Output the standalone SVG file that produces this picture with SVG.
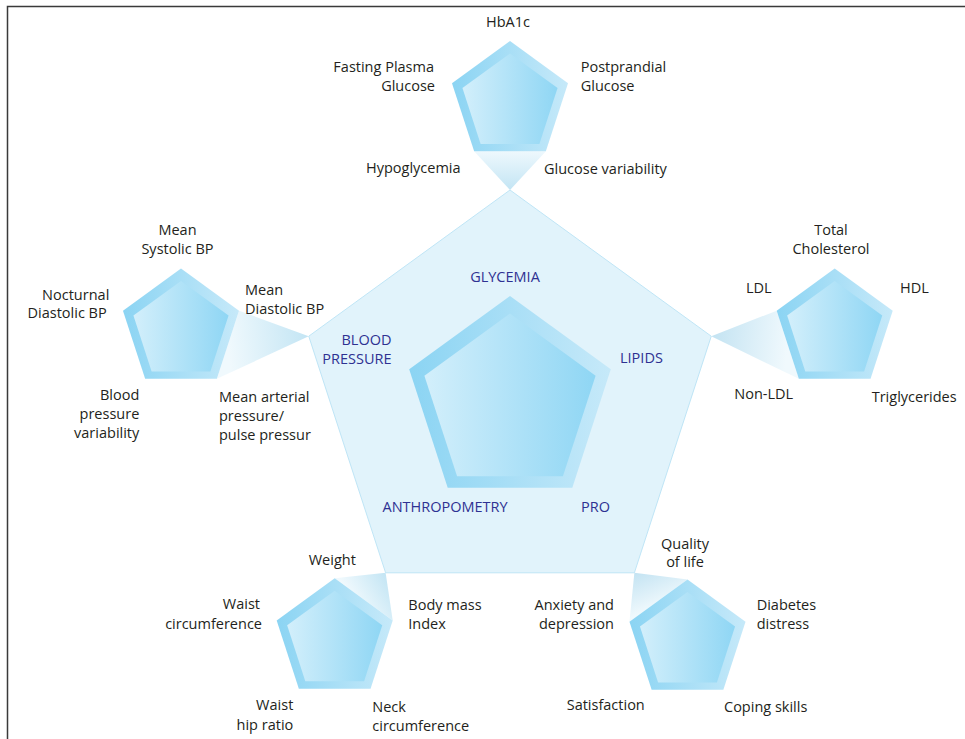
<svg xmlns="http://www.w3.org/2000/svg" xmlns:xlink="http://www.w3.org/1999/xlink" width="965" height="739" viewBox="0 0 965 739">
  <defs>
    <style>
      .lbl { font-family: "Open Sans", "Noto Sans", "DejaVu Sans", sans-serif; font-size: 14.5px; fill: #231f20; }
      .dom { font-family: "Open Sans", "Noto Sans", "DejaVu Sans", sans-serif; font-size: 14.5px; fill: #2e3192; }
      .mid { text-anchor: middle; }
      .end { text-anchor: end; }
      .frame { fill: none; stroke: #3a3a3a; stroke-width: 1.5; }
      .hub { fill: #e1f3fb; stroke: #bfe5f6; stroke-width: 1; }
    </style>
    <!-- rim of each pentagon: darker on the left, paler on the right -->
    <linearGradient id="rim" x1="0" y1="0" x2="1" y2="0">
      <stop offset="0" stop-color="#8bd4f3"/>
      <stop offset="1" stop-color="#c6e9f9"/>
    </linearGradient>
    <!-- face of each pentagon: paler on the left, darker on the right -->
    <linearGradient id="face" x1="0" y1="0" x2="1" y2="0">
      <stop offset="0" stop-color="#d3effb"/>
      <stop offset="1" stop-color="#8fd6f4"/>
    </linearGradient>
    <!-- beams: blue at the hub vertex, fading towards the satellite -->
    <linearGradient id="beamTop" gradientUnits="userSpaceOnUse" x1="510" y1="190" x2="510" y2="151">
      <stop offset="0" stop-color="#c3e5f4"/>
      <stop offset="1" stop-color="#eef8fd"/>
    </linearGradient>
    <linearGradient id="beamLeft" gradientUnits="userSpaceOnUse" x1="308.75" y1="336.2" x2="227.94" y2="344.75">
      <stop offset="0" stop-color="#c3e5f4"/>
      <stop offset="1" stop-color="#f0f9fd"/>
    </linearGradient>
    <linearGradient id="beamRight" gradientUnits="userSpaceOnUse" x1="711.25" y1="336.2" x2="787.76" y2="344.75">
      <stop offset="0" stop-color="#c3e3f2"/>
      <stop offset="1" stop-color="#f0f9fd"/>
    </linearGradient>
    <linearGradient id="beamBL" gradientUnits="userSpaceOnUse" x1="385.62" y1="572.8" x2="350" y2="595">
      <stop offset="0" stop-color="#c3e5f4"/>
      <stop offset="1" stop-color="#f0f9fd"/>
    </linearGradient>
    <linearGradient id="beamBR" gradientUnits="userSpaceOnUse" x1="634.38" y1="572.8" x2="650" y2="610">
      <stop offset="0" stop-color="#c3e3f2"/>
      <stop offset="1" stop-color="#f0f9fd"/>
    </linearGradient>
    <!-- satellite pentagon, centred on the origin -->
    <g id="sat">
      <polygon fill="url(#rim)" points="0,-61 58.02,-18.85 35.86,49.35 -35.86,49.35 -58.02,-18.85"/>
      <polygon fill="url(#face)" points="0,-48.5 47.55,-13.95 29.39,41.95 -29.39,41.95 -47.55,-13.95"/>
    </g>
  </defs>

  <rect width="965" height="739" fill="#ffffff"/>
  <path class="frame" d="M7.5,739 V6.5 H965"/>

  <!-- hub pentagon -->
  <g id="hub">
    <polygon class="hub" points="510,190 711.25,336.2 634.38,572.8 385.62,572.8 308.75,336.2"/>
    <polygon fill="url(#rim)" points="510,296 610.8,369.2 572.3,487.8 447.7,487.8 409.2,369.2"/>
    <polygon fill="url(#face)" points="510,313.5 595.6,375.7 562.9,476.3 457.1,476.3 424.4,375.7"/>
    <text class="dom mid" x="505" y="282.3">GLYCEMIA</text>
    <text class="dom end" x="391.5" y="345">BLOOD</text>
    <text class="dom end" x="391.5" y="364.3">PRESSURE</text>
    <text class="dom" x="620" y="363.3">LIPIDS</text>
    <text class="dom" x="382.5" y="511.7">ANTHROPOMETRY</text>
    <text class="dom" x="581" y="511.7">PRO</text>
  </g>

  <!-- beams linking the hub vertices to the satellites -->
  <g id="connectors">
    <polygon fill="url(#beamTop)" points="510,190 474.14,151.35 545.86,151.35"/>
    <polygon fill="url(#beamLeft)" points="308.75,336.2 239.02,310.65 216.86,378.85"/>
    <polygon fill="url(#beamRight)" points="711.25,336.2 776.68,310.65 798.84,378.85"/>
    <polygon fill="url(#beamBL)" points="385.62,572.8 334.7,578.3 392.72,620.45"/>
    <polygon fill="url(#beamBR)" points="634.38,572.8 687.5,579.5 629.48,621.65"/>
  </g>

  <!-- glycemia -->
  <g id="glycemia">
    <use xlink:href="#sat" href="#sat" transform="translate(510,102)"/>
    <text class="lbl mid" x="508" y="27">HbA1c</text>
    <text class="lbl end" x="434" y="71.7">Fasting Plasma</text>
    <text class="lbl end" x="435" y="90.7">Glucose</text>
    <text class="lbl" x="580.7" y="71.7">Postprandial</text>
    <text class="lbl" x="580.7" y="90.7">Glucose</text>
    <text class="lbl" x="366" y="173.3">Hypoglycemia</text>
    <text class="lbl" x="544" y="174">Glucose variability</text>
  </g>

  <!-- blood pressure -->
  <g id="blood-pressure">
    <use xlink:href="#sat" href="#sat" transform="translate(181,329.5)"/>
    <text class="lbl mid" x="177.5" y="235">Mean</text>
    <text class="lbl mid" x="177.5" y="254.3">Systolic BP</text>
    <text class="lbl end" x="109.3" y="300">Nocturnal</text>
    <text class="lbl end" x="106.7" y="318.3">Diastolic BP</text>
    <text class="lbl" x="245" y="295">Mean</text>
    <text class="lbl" x="245" y="314.3">Diastolic BP</text>
    <text class="lbl end" x="139.3" y="400">Blood</text>
    <text class="lbl end" x="139.3" y="419.3">pressure</text>
    <text class="lbl end" x="139.3" y="438.3">variability</text>
    <text class="lbl" x="219" y="401.7">Mean arterial</text>
    <text class="lbl" x="219" y="421">pressure/</text>
    <text class="lbl" x="219" y="440">pulse pressur</text>
  </g>

  <!-- lipids -->
  <g id="lipids">
    <use xlink:href="#sat" href="#sat" transform="translate(834.7,329.5)"/>
    <text class="lbl mid" x="831" y="235">Total</text>
    <text class="lbl mid" x="831" y="254">Cholesterol</text>
    <text class="lbl" x="746" y="292.7">LDL</text>
    <text class="lbl" x="900" y="292.7">HDL</text>
    <text class="lbl" x="734.3" y="399.3">Non-LDL</text>
    <text class="lbl" x="871.7" y="401.7">Triglycerides</text>
  </g>

  <!-- anthropometry -->
  <g id="anthropometry">
    <use xlink:href="#sat" href="#sat" transform="translate(334.7,639.3)"/>
    <text class="lbl mid" x="332.3" y="565">Weight</text>
    <text class="lbl end" x="260" y="609.3">Waist</text>
    <text class="lbl end" x="262" y="629.3">circumference</text>
    <text class="lbl" x="408.3" y="610">Body mass</text>
    <text class="lbl" x="408.3" y="629.3">Index</text>
    <text class="lbl end" x="293.3" y="710">Waist</text>
    <text class="lbl end" x="293.3" y="730">hip ratio</text>
    <text class="lbl" x="372.3" y="711.7">Neck</text>
    <text class="lbl" x="372.3" y="730.7">circumference</text>
  </g>

  <!-- patient-reported outcomes -->
  <g id="pro">
    <use xlink:href="#sat" href="#sat" transform="translate(687.5,640.5)"/>
    <text class="lbl mid" x="685" y="549">Quality</text>
    <text class="lbl mid" x="685" y="567.3">of life</text>
    <text class="lbl end" x="614" y="610">Anxiety and</text>
    <text class="lbl end" x="614" y="629">depression</text>
    <text class="lbl" x="756.7" y="610">Diabetes</text>
    <text class="lbl" x="756.7" y="629">distress</text>
    <text class="lbl" x="566.7" y="710">Satisfaction</text>
    <text class="lbl" x="724" y="711.7">Coping skills</text>
  </g>
</svg>
